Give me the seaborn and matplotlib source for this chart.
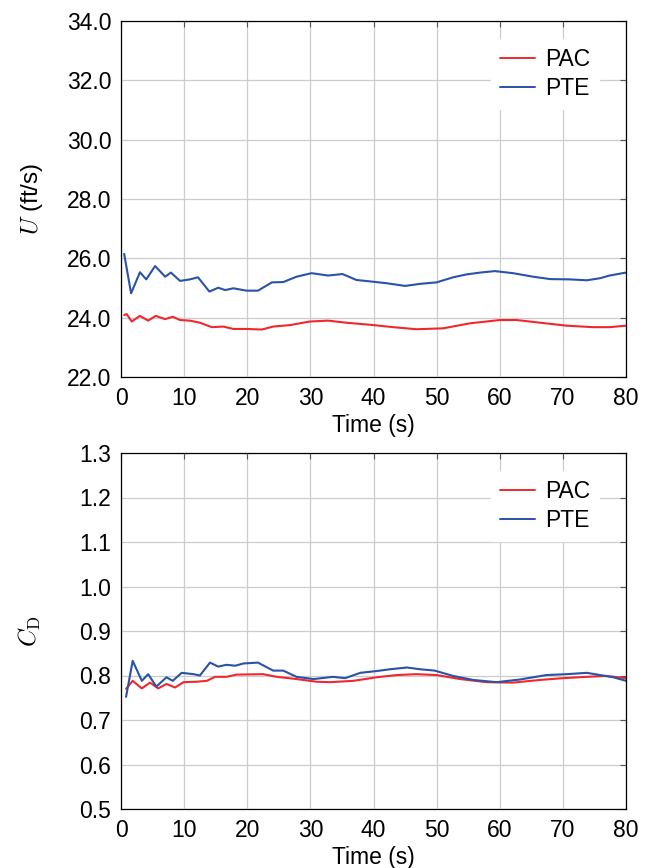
import numpy as np
import pandas as pd
import matplotlib
matplotlib.use("Agg")
import matplotlib.pyplot as plt
import seaborn as sns

# ---- data ----
t_u_pte = [0.5, 1.6, 3.0, 4.0, 5.4, 7.0, 7.9, 9.35, 10.9, 12.2, 14.0, 15.4, 16.5, 17.8, 19.9, 21.7,
           23.9, 25.7, 27.8, 30.2, 32.8, 35.1, 37.3, 40.0, 42.1, 45.0, 47.4, 50.0, 52.6, 54.8, 56.9,
           59.2, 62.1, 65.3, 68.0, 71.1, 73.8, 75.9, 77.4, 80.0]
u_pte = [26.15, 24.82, 25.53, 25.29, 25.74, 25.38, 25.52, 25.24, 25.29, 25.36, 24.88, 25.01, 24.93,
         24.99, 24.91, 24.91, 25.19, 25.20, 25.38, 25.50, 25.42, 25.47, 25.27, 25.21, 25.16, 25.07,
         25.14, 25.19, 25.36, 25.46, 25.52, 25.57, 25.50, 25.38, 25.30, 25.29, 25.26, 25.33, 25.42, 25.52]

t_u_pac = [0.5, 0.9, 1.7, 3.0, 4.3, 5.5, 7.0, 8.2, 9.35, 10.9, 12.5, 14.4, 16.2, 17.8, 19.9, 22.3,
           24.1, 26.8, 29.9, 32.8, 35.7, 40.0, 43.1, 46.8, 51.0, 55.3, 60.0, 62.7, 66.4, 70.6, 74.8,
           77.4, 80.0]
u_pac = [24.09, 24.12, 23.87, 24.06, 23.90, 24.06, 23.95, 24.03, 23.92, 23.90, 23.83, 23.68, 23.70,
         23.62, 23.62, 23.60, 23.70, 23.75, 23.87, 23.90, 23.83, 23.75, 23.68, 23.61, 23.64, 23.81,
         23.92, 23.92, 23.83, 23.73, 23.68, 23.68, 23.73]

t_c_pte = [0.8, 1.85, 3.3, 4.3, 5.6, 7.2, 8.2, 9.6, 11.5, 12.5, 14.1, 15.4, 16.7, 18.1, 19.4, 21.7,
           24.1, 25.7, 27.8, 30.5, 33.6, 35.5, 37.9, 40.5, 42.6, 45.3, 47.4, 49.7, 52.6, 55.8, 59.5,
           63.2, 67.4, 70.6, 73.8, 75.9, 78.0, 80.0]
c_pte = [0.752, 0.833, 0.788, 0.803, 0.775, 0.796, 0.788, 0.806, 0.803, 0.800, 0.829, 0.820, 0.824,
         0.822, 0.827, 0.829, 0.811, 0.811, 0.797, 0.792, 0.797, 0.794, 0.806, 0.810, 0.814, 0.818,
         0.814, 0.811, 0.799, 0.790, 0.785, 0.791, 0.801, 0.803, 0.806, 0.801, 0.796, 0.788]

t_c_pac = [0.8, 1.85, 3.3, 4.6, 5.9, 7.2, 8.55, 9.9, 12.0, 13.6, 14.9, 16.7, 18.3, 22.5, 24.7, 27.8,
           31.0, 33.1, 36.8, 40.5, 43.7, 46.8, 50.0, 53.7, 57.9, 62.1, 66.4, 70.0, 73.8, 76.9, 80.0]
c_pac = [0.770, 0.788, 0.771, 0.784, 0.771, 0.781, 0.773, 0.785, 0.786, 0.788, 0.797, 0.797, 0.802,
         0.803, 0.797, 0.792, 0.786, 0.785, 0.788, 0.796, 0.801, 0.803, 0.801, 0.792, 0.785, 0.784,
         0.790, 0.794, 0.797, 0.799, 0.794]

series_names = ["PAC", "PTE"]
x_ticks = list(range(0, 81, 10))
u_ticks = [22.0, 24.0, 26.0, 28.0, 30.0, 32.0, 34.0]
c_ticks = [0.5, 0.6, 0.7, 0.8, 0.9, 1.0, 1.1, 1.2, 1.3]

colors = {"PAC": "#f0282d", "PTE": "#2a52a8"}

df_u = pd.concat([
    pd.DataFrame({"t": t_u_pac, "v": u_pac, "s": "PAC"}),
    pd.DataFrame({"t": t_u_pte, "v": u_pte, "s": "PTE"}),
])
df_c = pd.concat([
    pd.DataFrame({"t": t_c_pac, "v": c_pac, "s": "PAC"}),
    pd.DataFrame({"t": t_c_pte, "v": c_pte, "s": "PTE"}),
])

sns.set_style("white")
plt.rcParams["font.family"] = ["Liberation Sans", "DejaVu Sans"]
plt.rcParams["mathtext.fontset"] = "cm"
plt.rcParams["text.color"] = "black"
plt.rcParams["axes.labelcolor"] = "black"
plt.rcParams["xtick.color"] = "#555555"
plt.rcParams["ytick.color"] = "#555555"
plt.rcParams["xtick.labelcolor"] = "black"
plt.rcParams["ytick.labelcolor"] = "black"

fig = plt.figure(figsize=(6.51, 8.68), dpi=100)
L, W = 121 / 651, (626 - 121) / 651
H = 356 / 868
ax1 = fig.add_axes([L, 1 - 377 / 868, W, H])
ax2 = fig.add_axes([L, 1 - 809 / 868, W, H])

fs = 16.5

for ax, df, yticks, ylab, ylx in [(ax1, df_u, u_ticks, r"$U$ (ft/s)", -0.150),
                                  (ax2, df_c, c_ticks, r"$C_{\mathrm{D}}$", -0.154)]:
    sns.lineplot(data=df, x="t", y="v", hue="s", hue_order=series_names,
                 palette=colors, ax=ax, linewidth=1.5, sort=True, estimator=None)
    ax.set_xlim(0, 80)
    ax.set_ylim(yticks[0], yticks[-1])
    ax.set_xticks(x_ticks)
    ax.set_yticks(yticks)
    ax.set_xticklabels([str(x) for x in x_ticks], fontsize=fs)
    ax.set_yticklabels([f"{y:.1f}" for y in yticks], fontsize=fs)
    ax.grid(True, color="#cccccc", linewidth=0.9)
    ax.set_axisbelow(True)
    ax.tick_params(direction="in", top=True, right=True, length=4, width=0.8, pad=7)
    for sp in ax.spines.values():
        sp.set_color("black")
        sp.set_linewidth(0.9)
        sp.set_visible(True)
    ax.set_xlabel("Time (s)", fontsize=fs, labelpad=3)
    ax.set_ylabel(ylab, fontsize=fs + 1)
    ax.yaxis.set_label_coords(ylx, 0.5)
    leg = ax.legend(loc="upper right", bbox_to_anchor=(0.947, 0.95), frameon=True,
                    facecolor="white", edgecolor="white", framealpha=1, fancybox=False,
                    fontsize=fs, handlelength=1.5, handletextpad=0.45, borderaxespad=0,
                    borderpad=0.4, labelspacing=0.25)
    for line in leg.get_lines():
        line.set_linewidth(1.4)

fig.savefig("out.png", dpi=100)
